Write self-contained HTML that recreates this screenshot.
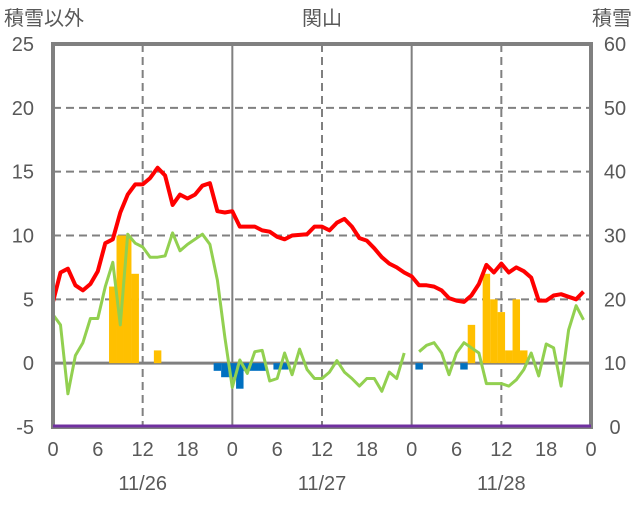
<!DOCTYPE html>
<html><head><meta charset="utf-8"><style>
body{margin:0;background:#fff;}
svg text{font-family:"Liberation Sans","Noto Sans CJK JP",sans-serif;fill:#595959;}
</style></head><body>
<svg id="chart" width="636" height="501" xmlns="http://www.w3.org/2000/svg">
<g id="grid"></g>
<g id="bars"></g>
<g id="lines"></g>
<g id="frame"></g>
<g id="labels"></g>
</svg>
<script>
const hours = Array.from({length:72},(_,i)=>i);
const snowDepth = [4.8,7.1,7.4,6.1,5.7,6.2,7.2,9.4,9.7,11.8,13.2,14,14,14.5,15.3,14.7,12.4,13.2,12.9,13.2,13.9,14.1,11.9,11.8,11.9,10.7,10.7,10.7,10.4,10.3,9.9,9.7,10,10.05,10.1,10.7,10.7,10.4,11,11.3,10.7,9.8,9.6,9.0,8.3,7.8,7.5,7.1,6.8,6.1,6.1,6.0,5.7,5.1,4.9,4.8,5.3,6.2,7.7,7.1,7.8,7.1,7.5,7.2,6.7,4.9,4.9,5.3,5.4,5.2,5.0,5.6];
const temperature = [3.8,3,-2.4,0.6,1.6,3.5,3.5,6,7.9,3,10.1,9.4,9.1,8.3,8.3,8.4,10.2,8.8,9.3,9.7,10.1,9.3,6.5,2,-1.9,0.25,-0.8,0.9,1.0,-1.4,-1.2,0.8,-0.9,1.1,-0.5,-1.2,-1.2,-0.7,0.2,-0.7,-1.2,-1.8,-1.2,-1.2,-2.2,-0.7,-1.2,0.8,null,0.9,1.4,1.6,0.8,-0.9,0.8,1.6,1.2,0.8,-1.6,-1.6,-1.6,-1.8,-1.3,-0.5,0.8,-1,1.5,1.2,-1.8,2.6,4.5,3.4];
const barHours = [8,9,10,11,14,22,23,24,25,26,27,28,30,31,49,55,56,58,59,60,61,62,63];
const barValues = [6,10,10,7,1,-0.6,-1.1,-1.1,-2,-0.6,-0.6,-0.6,-0.5,-0.5,-0.5,-0.5,3,7,5,4,1,5,1];
const leftTicks = [-5,0,5,10,15,20,25];
const rightTicks = [0,10,20,30,40,50,60];
const hourTicks = ["0","6","12","18","0","6","12","18","0","6","12","18","0"];
const dates = ["11/26","11/27","11/28"];

const X0=53,X1=591,Y0=427,Y1=44;
const x = h => X0 + h*(X1-X0)/72;
const yL = v => Y0 - (v+5)*(Y0-Y1)/30;
const yR = v => Y0 - v*(Y0-Y1)/60;
const NS="http://www.w3.org/2000/svg";
function mk(tag, attrs, parent){const e=document.createElementNS(NS,tag);for(const k in attrs)e.setAttribute(k,attrs[k]);parent.appendChild(e);return e;}
const grid=document.getElementById('grid'),bars=document.getElementById('bars'),lines=document.getElementById('lines'),frame=document.getElementById('frame'),labels=document.getElementById('labels');

leftTicks.forEach(v=>{ if(v>-5&&v<25&&v!==0){const l=mk('line',{x1:X0,x2:X1,y1:yL(v),y2:yL(v),stroke:'#808080','stroke-width':2,'stroke-dasharray':'8,5'},grid);

}});
[12,36,60].forEach(h=>{const l=mk('line',{x1:x(h),x2:x(h),y1:Y1,y2:Y0,stroke:'#808080','stroke-width':2,'stroke-dasharray':'8,5'},grid);

});
[24,48].forEach(h=>{const l=mk('line',{x1:x(h),x2:x(h),y1:Y1,y2:Y0,stroke:'#808080','stroke-width':2},grid);

});

const bw=(X1-X0)/72;
barHours.forEach((h,i)=>{const v=barValues[i];const y0=yL(0),y1=yL(v);
const r=mk('rect',{x:x(h)-bw/2,y:Math.min(y0,y1),width:bw,height:Math.abs(y1-y0),fill:v>=0?'#FFC000':'#0070C0'},bars);

});

const zl=mk('line',{x1:X0,x2:X1,y1:yL(0),y2:yL(0),stroke:'#808080','stroke-width':3},grid);



let segs=[],cur=[];
temperature.forEach((v,i)=>{if(v===null){if(cur.length)segs.push(cur);cur=[];}else cur.push(x(hours[i]).toFixed(1)+','+yL(v).toFixed(1));});
if(cur.length)segs.push(cur);
segs.forEach(s=>{const p=mk('polyline',{points:s.join(' '),fill:'none',stroke:'#92D050','stroke-width':3,'stroke-linejoin':'round'},lines);

});
const red=mk('polyline',{points:snowDepth.map((v,i)=>x(hours[i]).toFixed(1)+','+yL(v).toFixed(1)).join(' '),fill:'none',stroke:'#FF0000','stroke-width':4,'stroke-linejoin':'round'},lines);



const fr=mk('rect',{x:X0,y:Y1,width:X1-X0,height:Y0-Y1,fill:'none',stroke:'#808080','stroke-width':4},frame);


const pl=mk('line',{x1:X0,x2:X1,y1:Y0-1,y2:Y0-1,stroke:'#7030A0','stroke-width':3},frame);



function txt(s,a,name){const t=mk('text',a,labels);t.textContent=s;return t;}
leftTicks.forEach(v=>txt(String(v),{x:34,y:yL(v)+7,'font-size':20,'text-anchor':'end'},'left-tick'));
rightTicks.forEach(v=>txt(String(v),{x:615,y:yR(v)+7,'font-size':20,'text-anchor':'middle'},'right-tick'));
hourTicks.forEach((s,i)=>txt(s,{x:x(i*6),y:456,'font-size':20,'text-anchor':'middle'},'hour-tick'));
dates.forEach((s,i)=>txt(s,{x:x(12+24*i),y:490,'font-size':20,'text-anchor':'middle'},'date-label'));
txt('積雪以外',{x:4,y:25,'font-size':20},'left-axis-title');
txt('積雪',{x:632,y:25,'font-size':20,'text-anchor':'end'},'right-axis-title');
txt('関山',{x:322,y:25,'font-size':20,'text-anchor':'middle'},'chart-title');
</script>
</body></html>
